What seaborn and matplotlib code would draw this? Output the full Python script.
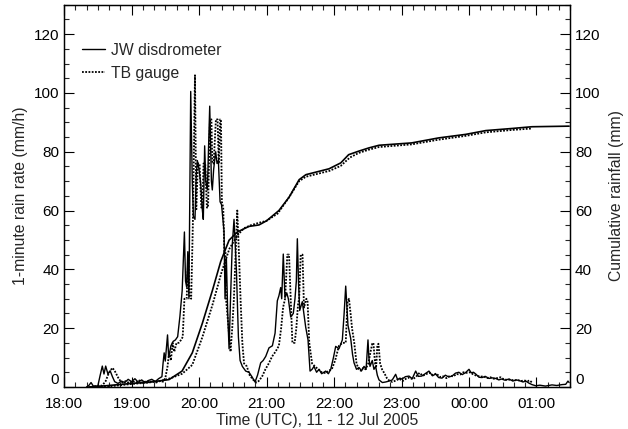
import numpy as np
import pandas as pd
import seaborn as sns
import matplotlib
matplotlib.use("Agg")
import matplotlib.pyplot as plt
from matplotlib.ticker import MultipleLocator, FixedLocator, FixedFormatter

# Time axis in minutes after 18:00 UTC, 11 Jul 2005
HOUR_LABELS = ["18:00", "19:00", "20:00", "21:00", "22:00", "23:00", "00:00", "01:00"]

# JW disdrometer 1-minute rain rate (mm/h)
jw_rate_min = [20, 22, 24, 26, 30, 32, 34, 35.5, 37, 39, 41, 43, 45, 48, 51, 54, 57, 60, 63, 66,
               69, 72, 75, 78, 81, 84, 87, 88, 89, 90, 92, 93, 95, 97, 99, 101, 103, 105, 107, 108,
               109, 110, 111, 112.6, 114, 115, 116.4, 117.5, 118.5, 120, 121.5, 123, 123.8, 125, 126,
               127.4, 129.5, 131, 131.8, 133, 134.8, 136, 137.2, 138.7, 140, 141, 142.2, 143.1, 144.3,
               145.5, 146.7, 148, 149.5, 151.1, 152, 153.2, 155, 156.5, 158.5, 161.5, 164.4, 167,
               169.8, 172, 174.8, 177, 179.3, 182.2, 185.2, 187.6, 189.6, 191, 192.6, 193.5, 194.9,
               196.4, 198, 199.4, 201.5, 203.8, 205.3, 206.5, 207.4, 208.5, 209.5, 211.8, 213.5,
               214.8, 216.9, 218.7, 220.5, 222.2, 224.5, 226.7, 229, 232.6, 235, 237.1, 239.5, 241.5,
               244.4, 247.4, 249, 250.4, 252.4, 254.8, 256.5, 257.8, 260, 262.2, 264.5, 266.7, 268.5,
               270.2, 271, 272, 274, 275.5, 277, 278.5, 280, 283, 286, 289, 291.8, 294.8, 296.5,
               298.5, 300.4, 303.5, 306.7, 309.5, 312.6, 315, 318, 321, 324.4, 327.5, 330.4, 333,
               336, 339, 342, 344.9, 348, 351, 354, 357, 360, 362, 364, 366, 369, 371.6, 374.5,
               377.8, 380.5, 383.7, 386.5, 389, 392, 395.6, 399, 402, 404.4, 408, 410.5, 413.3, 416,
               419.3, 423, 428, 433.8, 438, 442.7, 446, 448, 449]
jw_rate_val = [0, 0.5, 1.5, 0.3, 0.3, 3.8, 7.1, 4.4, 7.1, 4.4, 5.5, 3.5, 1.8, 1.2, 2.0, 1.5, 2.6, 1.8, 2.8, 1.6,
               2.4, 1.5, 2.2, 2.6, 1.8, 2.8, 3.5, 8, 11.6, 8.8, 17.7, 10, 14, 15.5, 16, 17.1, 24, 32.7, 52.7, 36,
               34, 46, 30, 100.5, 70, 58, 57, 72, 77, 74, 69, 60, 57, 82, 70,
               67, 95.5, 70, 67, 74, 80, 76, 77, 63, 62, 58, 53, 30, 44,
               25, 13, 30, 48, 57, 50, 40, 17, 9, 7, 5.4, 5, 3.5,
               1.7, 4, 8.2, 9, 10.4, 13.3, 14, 18.3, 29.3, 31, 33.8, 30, 45.2,
               30.4, 32, 30, 23.8, 25, 30, 36, 50.4, 35, 26, 29, 24,
               20.4, 16, 5.4, 6, 7, 5, 6, 4.5, 5.4, 4.5, 6, 10, 13.8,
               13, 16, 25, 34.3, 21, 16.6, 11, 8.2, 6, 6.6, 5.5, 7, 6,
               16, 10, 7, 9, 6, 7, 4, 2.4, 1.5, 1.7, 2.0, 2.4, 4.3, 2.5,
               3, 2.7, 3.5, 3.7, 2.8, 5.4, 3.6, 3.7, 4.5, 5.4, 3.8, 4.4, 3.2,
               3.0, 4, 3.4, 3.7, 4.7, 5.0, 4.2, 4.9, 6.0, 4.8, 5.0, 4.4, 3.3, 3.2, 3.6,
               2.9, 3.1, 2.9, 2.4, 2.7, 2.3, 2.7, 2.0, 2.4, 2.2, 1.7, 2.0, 1.3, 0.8,
               0.4, 0.6, 0.3, 0.7, 0.5, 0.8, 0.9, 2.0, 1.5]

# TB gauge 1-minute rain rate (mm/h)
tb_rate_min = [24, 30, 34, 37, 39, 41, 43, 45, 47, 49, 52, 55, 58, 61, 64, 67, 70, 73, 76, 79, 82, 85,
               88, 90, 92, 93.5, 95, 96.5, 98, 100, 102, 104, 105.5, 107, 109, 110.5, 111.5, 113,
               114.5, 116.4, 117.5, 119, 120.5, 122, 123, 124, 125.5, 127, 128, 129.7, 131, 131.8,
               133, 135, 136.5, 137.5, 138.8, 139.5, 140.3, 141.5, 142.5, 143.5, 144, 146, 148,
               149.5, 151, 152.5, 154, 155.5, 157, 158.5, 160, 162.5, 165, 168, 171, 173, 176, 179,
               182, 185, 188, 191, 193, 194.7, 196.5, 198.5, 200, 201.5, 203, 205, 206.5, 208, 209,
               210.4, 212, 213.3, 215.4, 216.5, 218, 220.5, 223, 226, 229, 232.6, 235, 238, 241,
               244.4, 247.5, 250.4, 252, 253.3, 255, 256, 258, 260, 262, 264, 266, 268, 270.5,
               272.5, 274, 275, 276.5, 277.5, 278.5, 279.5, 281, 282.7, 285, 287, 289.5, 291.8, 295,
               298, 301, 304, 307, 310, 313, 316, 319, 322, 325, 328, 331, 334, 337, 340, 343, 346,
               349, 352, 355, 358, 361, 364, 367, 370, 373, 376, 379, 382, 385, 388, 391, 394, 397,
               400, 403, 406, 409, 412, 414, 416]
tb_rate_val = [0, 0.3, 0.5, 2, 4, 5.5, 6.5, 5.5, 4, 2.5, 1.5, 2, 1.3, 2, 1.5, 2.2, 1.4, 2.0, 1.6, 2.2, 1.5, 2,
               1.8, 3, 7, 12, 9, 15, 12, 15, 15, 16, 17, 30, 30, 45, 31, 30,
               55, 106, 60, 76, 76, 61, 61, 76, 76, 61, 61, 91, 91, 76,
               76, 91, 91, 76, 91, 91, 63, 61, 46, 46, 30, 21, 12,
               20, 30, 45, 60, 45, 29, 15, 8, 7, 4, 2.5, 1.5, 2, 3.5, 6,
               8, 10.4, 12, 14, 20, 27, 30, 45, 45, 30, 15, 15, 20, 28, 30,
               45, 45, 27, 30, 29, 15, 8, 7, 6, 5, 4.7, 5.5, 6, 9,
               14, 15, 15, 29, 30, 24, 20, 15, 8, 6, 5.5, 6.5, 6, 8,
               12, 14.7, 15, 8, 7, 14, 14.7, 8, 6, 4.5, 3, 2, 1.7, 2.2,
               2.8, 2, 2.8, 3.2, 2.6, 3.5, 4.8, 3.8, 4.4, 4.8, 4.0, 4.6, 3.4, 3.6, 3.0, 3.8, 3.6,
               4.4, 4.2, 5.0, 4.8, 5.0, 4.2, 3.8, 3.5, 3.6, 3.0, 3.3, 2.8, 3.0, 3.3, 2.6, 2.4, 2.5,
               2.2, 2.4, 2.0, 2.2, 2.0, 2.2, 1.5]

# Cumulative rainfall (mm)
jw_cum_min = [22, 37, 60, 75.6, 93.3, 104.9, 114, 122.9, 131.8, 139.3, 146.7, 154, 164.4, 173.3, 180,
              191, 200, 209, 215, 235.6, 246, 253, 262, 271, 280, 309, 333, 357, 375, 398, 416, 449]
jw_cum_val = [0, 0.4, 1.2, 1.6, 2.5, 5.4, 11.6, 21.6, 32.7, 42.7, 49.9, 52.7, 54.6, 55.1, 56.5,
              60, 64.5, 70.5, 72.2, 74.2, 76.2, 79, 80.2, 81.3, 82.2, 83, 84.7, 85.9, 87.2, 87.9, 88.5, 88.7]
tb_cum_min = [24, 40, 50, 60, 75, 85, 95, 105, 114, 123, 132, 140, 147, 154, 160, 166, 173, 180,
              190, 200, 209, 215, 236, 246, 254, 262, 271, 280, 309, 333, 357, 375, 398, 416]
tb_cum_val = [0, 0.2, 0.6, 1.0, 1.5, 2.0, 3.0, 4.5, 7.5, 17, 28, 39, 47, 51.5, 54, 55, 55.8, 56.5,
              59, 64.5, 70, 71.5, 73.5, 75.2, 78, 79.6, 80.7, 81.6, 82.5, 84.1, 85.4, 86.6, 87.4, 87.9]

DOT = (0, (1, 0.8))

sns.set_style("ticks")
plt.rcParams['font.family'] = ['Liberation Sans', 'DejaVu Sans']
plt.rcParams['font.size'] = 11

fig = plt.figure(figsize=(6.28, 4.29), dpi=100)
ax = fig.add_axes([0.102, 0.098, 0.806, 0.891])
ax2 = ax.twinx()

jw = pd.DataFrame({'t': jw_rate_min, 'v': jw_rate_val})
tb = pd.DataFrame({'t': tb_rate_min, 'v': tb_rate_val})
jwc = pd.DataFrame({'t': jw_cum_min, 'v': jw_cum_val})
tbc = pd.DataFrame({'t': tb_cum_min, 'v': tb_cum_val})

sns.lineplot(data=jw, x='t', y='v', ax=ax, color='black', lw=1.0, sort=False,
             estimator=None, label='JW disdrometer')
sns.lineplot(data=tb, x='t', y='v', ax=ax, color='black', lw=1.3, linestyle=DOT,
             sort=False, estimator=None, label='TB gauge')
sns.lineplot(data=jwc, x='t', y='v', ax=ax2, color='black', lw=1.2, sort=False, estimator=None)
sns.lineplot(data=tbc, x='t', y='v', ax=ax2, color='black', lw=1.3, linestyle=DOT,
             sort=False, estimator=None)

for a in (ax, ax2):
    a.set_xlim(0, 450)
    a.set_ylim(0, 130)
    a.yaxis.set_major_locator(FixedLocator([0, 20, 40, 60, 80, 100, 120]))
    a.yaxis.set_minor_locator(MultipleLocator(5))
    a.tick_params(which='major', direction='in', length=7, width=0.8, labelsize=11, colors='black')
    a.tick_params(which='minor', direction='in', length=3.5, width=0.8)
    for s in a.spines.values():
        s.set_linewidth(0.9)
        s.set_color('black')

ax.xaxis.set_major_locator(FixedLocator(np.arange(0, 421, 60)))
ax.xaxis.set_major_formatter(FixedFormatter(HOUR_LABELS))
ax.xaxis.set_minor_locator(MultipleLocator(10))
ax.tick_params(axis='x', which='both', top=True)
ax.tick_params(axis='y', which='both', right=False)
ax.tick_params(axis='x', pad=7)

ax.set_xlabel('Time (UTC), 11 - 12 Jul 2005', fontsize=11.3, labelpad=2)
ax.set_ylabel('1-minute rain rate (mm/h)', fontsize=11.3, labelpad=4)
ax2.set_ylabel('Cumulative rainfall (mm)', fontsize=11.3, labelpad=6)

ax.legend(loc='upper left', bbox_to_anchor=(0.035, 0.90), borderaxespad=0, borderpad=0,
          frameon=False, handlelength=1.5, handletextpad=0.35, labelspacing=0.5, fontsize=11.3)

# the zero labels sit just above the bottom axis, as in the original
fig.canvas.draw()
for a in (ax, ax2):
    a.get_yticklabels()[0].set_verticalalignment('bottom')

fig.savefig('out.png', dpi=100)
plt.close(fig)
